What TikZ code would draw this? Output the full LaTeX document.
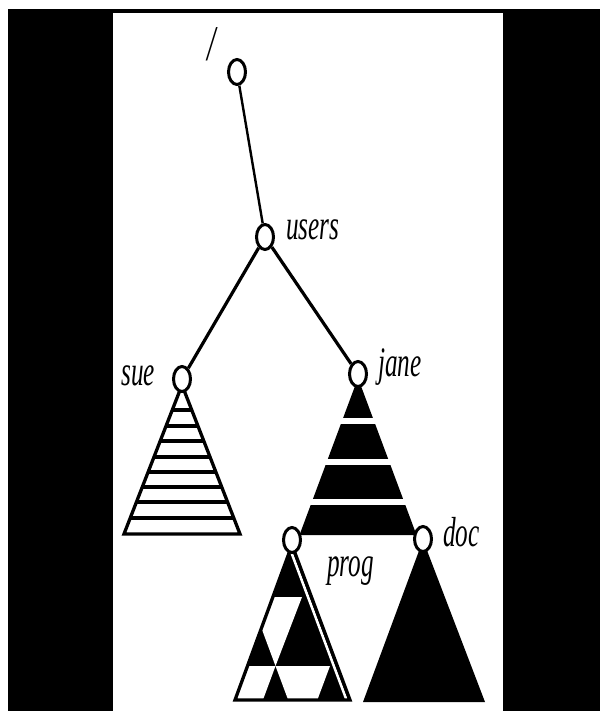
\documentclass[tikz,border=0pt]{standalone}
\usepackage{fontspec}
\setmainfont{Liberation Serif}
\usetikzlibrary{shapes.geometric}
\begin{document}
\begin{tikzpicture}[x=1pt,y=-1pt,
  dot/.style={draw, fill=white, line width=3pt, ellipse, minimum width=17pt, minimum height=25pt, inner sep=0pt},
  lbl/.style={font=\fontsize{42}{44}\selectfont\itshape, inner sep=0pt},
  edge/.style={line width=3.2pt},
  thinedge/.style={line width=2.4pt},
  outl/.style={line width=3.3pt, line join=miter}]
\useasboundingbox (0,0) rectangle (600,711);
\fill[black] (8,9) rectangle (600,711);
\fill[white] (113,13) rectangle (503,711);
% sue triangle (striped)
\begin{scope}
  \clip (182,385) -- (124,534) -- (240,534) -- cycle;
  \foreach \yy in {410,426,441,457,472,487,502,518}
    \fill[black] (100,\yy-1.75) rectangle (260,\yy+1.75);
\end{scope}
\draw[outl] (182,385) -- (124,534) -- (240,534) -- cycle;
% jane triangle (black with white gaps)
\fill[black] (358,378) -- (299.5,535) -- (416.5,535) -- cycle;
\foreach \ya/\yb in {418/424,459/465,499/505}
  \fill[white] (290,\ya) rectangle (430,\yb);
% doc triangle
\fill[black] (423,540) -- (363,702) -- (485,702) -- cycle;
% prog triangle (harlequin)
\begin{scope}
  \clip (292,545) -- (235,700) -- (350,700) -- cycle;
  \fill[black] (220,540) rectangle (360,705);
  \fill[white] (249.9,597) -- (302,597) -- (275.5,666) -- cycle;
  \fill[white] (275.5,666) -- (330,666) -- (302.75,739) -- cycle;
  \fill[white] (220,666) -- (275.5,666) -- (262.9,700) -- (220,700) -- cycle;
  \draw[white, line width=2.6pt] (288.6,545) -- (346.6,700);
\end{scope}
\draw[outl] (292,545) -- (235,700) -- (350,700) -- cycle;
% nodes
\node[dot] (root) at (237,72) {};
\node[dot] (users) at (265,237) {};
\node[dot] (sue) at (182,379) {};
\node[dot] (jane) at (358,374) {};
\node[dot] (prog) at (292,540) {};
\node[dot] (doc) at (423,539) {};
\draw[thinedge] (root) -- (users);
\draw[edge] (users) -- (sue);
\draw[edge] (users) -- (jane);
% labels
\node[lbl, font=\fontsize{50}{52}\selectfont\itshape] (lroot) at (212,44) {\scalebox{0.6}[1]{/}};
\node[lbl, anchor=base west] (lusers) at (286,240) {\scalebox{0.6}[1]{users}};
\node[lbl, anchor=base west] (lsue) at (121,385) {\scalebox{0.6}[1]{sue}};
\node[lbl, anchor=base west] (ljane) at (378,376) {\scalebox{0.6}[1]{jane}};
\node[lbl, anchor=base west] (lprog) at (327,576) {\scalebox{0.6}[1]{prog}};
\node[lbl, anchor=base west] (ldoc) at (443,546) {\scalebox{0.6}[1]{doc}};
\end{tikzpicture}
\end{document}
